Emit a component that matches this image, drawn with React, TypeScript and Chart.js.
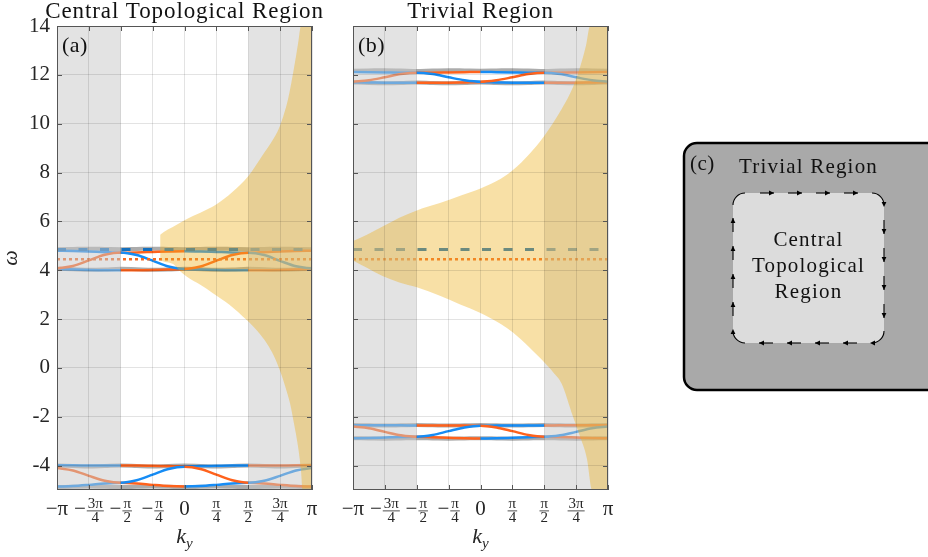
import React, { useEffect, useRef } from "react";
import { Chart, registerables } from "chart.js";

Chart.register(...registerables);

const PI = Math.PI;

// ---------- axes ----------
const kRange = [-PI, PI];
const omegaRange = [-5, 14];
const kTickValues = [-PI, -0.75 * PI, -0.5 * PI, -0.25 * PI, 0, 0.25 * PI, 0.5 * PI, 0.75 * PI, PI];
const kTickLabels = ["−π", "−3π/4", "−π/2", "−π/4", "0", "π/4", "π/2", "3π/4", "π"];
const omegaTicks = [-4, -2, 0, 2, 4, 6, 8, 10, 12, 14];
const shadedK = [[-PI, -PI / 2], [PI / 2, PI]];

// band samples in units of π/8
const kEighths = [-8, -7, -6, -5, -4, -3, -2, -1, 0, 1, 2, 3, 4, 5, 6, 7, 8];

// ---------- panel (a): Central Topological Region ----------
const aUpTop = [4.80, 4.79, 4.77, 4.74, 4.72, 4.73, 4.75, 4.77, 4.78, 4.77, 4.75, 4.73, 4.72, 4.74, 4.77, 4.79, 4.80];
const aUpMid = [4.07, 4.17, 4.40, 4.63, 4.73, 4.62, 4.39, 4.15, 4.05, 4.15, 4.39, 4.62, 4.72, 4.62, 4.38, 4.16, 4.07];
const aUpBot = [4.04, 4.03, 4.01, 4.00, 4.00, 4.00, 4.01, 4.03, 4.04, 4.03, 4.01, 4.00, 4.00, 4.00, 4.01, 4.03, 4.04];
const aUpGrayHi = [4.86, 4.87, 4.88, 4.87, 4.86, 4.87, 4.88, 4.87, 4.86, 4.87, 4.88, 4.87, 4.86, 4.87, 4.88, 4.87, 4.86];
const aUpGrayLo = [4.06, 4.04, 4.02, 4.03, 4.06, 4.04, 4.02, 4.03, 4.06, 4.04, 4.02, 4.03, 4.06, 4.04, 4.02, 4.03, 4.06];

const aLoTop = [-3.99, -3.99, -4.00, -4.00, -4.00, -4.00, -4.01, -4.02, -4.03, -4.02, -4.01, -4.00, -4.00, -4.00, -4.00, -3.99, -3.99];
const aLoMid = [-4.10, -4.20, -4.42, -4.62, -4.70, -4.60, -4.37, -4.14, -4.05, -4.14, -4.37, -4.60, -4.70, -4.62, -4.42, -4.20, -4.10];
const aLoBot = [-4.86, -4.84, -4.79, -4.73, -4.70, -4.73, -4.79, -4.84, -4.86, -4.84, -4.79, -4.73, -4.70, -4.73, -4.79, -4.84, -4.86];
const aLoGrayHi = [-4.00, -4.02, -4.04, -4.02, -4.00, -4.02, -4.04, -4.02, -4.00, -4.02, -4.04, -4.02, -4.00, -4.02, -4.04, -4.02, -4.00];
const aLoGrayLo = [-4.88, -4.87, -4.86, -4.87, -4.88, -4.87, -4.86, -4.87, -4.88, -4.87, -4.86, -4.87, -4.88, -4.87, -4.86, -4.87, -4.88];

const aDashed = 4.85;
const aDotted = 4.45;

const aFanUpperK = [-0.60, -0.50, -0.30, 0.00, 0.39, 0.79, 1.18, 1.57, 1.96, 2.20, 2.36, 2.55, 2.70, 2.80, 2.87, PI];
const aFanUpperW = [5.45, 5.58, 5.76, 6.05, 6.35, 6.70, 7.20, 7.85, 8.80, 9.40, 9.95, 11.0, 12.3, 13.3, 14.0, 14.0];
const aFanLowerK = [-0.60, -0.50, -0.28, -0.10, 0.06, 0.39, 0.70, 1.10, 1.54, 1.80, 2.03, 2.20, 2.35, 2.48, 2.60, 2.70, 2.80, 2.87, 2.91, PI];
const aFanLowerW = [4.40, 4.35, 4.25, 3.95, 3.73, 3.40, 3.06, 2.60, 1.95, 1.50, 1.00, 0.50, -0.10, -0.75, -1.45, -2.30, -3.25, -4.20, -5.0, -5.0];

// ---------- panel (b): Trivial Region ----------
const bUpTop = [12.12, 12.11, 12.10, 12.09, 12.09, 12.09, 12.10, 12.11, 12.12, 12.11, 12.10, 12.09, 12.09, 12.09, 12.10, 12.11, 12.12];
const bUpMid = [11.72, 11.78, 11.90, 12.03, 12.09, 12.03, 11.90, 11.78, 11.72, 11.78, 11.90, 12.03, 12.09, 12.03, 11.90, 11.78, 11.72];
const bUpBot = [11.70, 11.69, 11.68, 11.68, 11.68, 11.68, 11.68, 11.69, 11.70, 11.69, 11.68, 11.68, 11.68, 11.68, 11.68, 11.69, 11.70];
const bUpGrayHi = [12.17, 12.18, 12.19, 12.18, 12.16, 12.18, 12.19, 12.18, 12.17, 12.18, 12.19, 12.18, 12.16, 12.18, 12.19, 12.18, 12.17];
const bUpGrayLo = [11.69, 11.67, 11.66, 11.67, 11.69, 11.67, 11.66, 11.67, 11.69, 11.67, 11.66, 11.67, 11.69, 11.67, 11.66, 11.67, 11.69];

const bLoTop = [-2.35, -2.35, -2.35, -2.35, -2.36, -2.36, -2.36, -2.36, -2.37, -2.36, -2.36, -2.36, -2.36, -2.35, -2.35, -2.35, -2.35];
const bLoMid = [-2.40, -2.47, -2.62, -2.76, -2.82, -2.75, -2.59, -2.44, -2.37, -2.44, -2.59, -2.75, -2.82, -2.76, -2.62, -2.47, -2.40];
const bLoBot = [-2.88, -2.87, -2.85, -2.83, -2.82, -2.84, -2.86, -2.88, -2.89, -2.88, -2.86, -2.84, -2.82, -2.83, -2.85, -2.87, -2.88];
const bLoGrayHi = [-2.34, -2.35, -2.36, -2.35, -2.34, -2.35, -2.36, -2.35, -2.34, -2.35, -2.36, -2.35, -2.34, -2.35, -2.36, -2.35, -2.34];
const bLoGrayLo = [-2.88, -2.89, -2.90, -2.89, -2.88, -2.89, -2.90, -2.89, -2.88, -2.89, -2.90, -2.89, -2.88, -2.89, -2.90, -2.89, -2.88];

const bDashed = 4.85;
const bDotted = 4.45;

const bFanUpperK = [-PI, -2.8, -2.4, -2.0, -1.57, -1.0, -0.5, 0.0, 0.5, 0.8, 1.2, 1.57, 2.0, 2.28, 2.45, 2.60, 2.70, PI];
const bFanUpperW = [5.2, 5.45, 5.8, 6.15, 6.45, 6.75, 7.05, 7.35, 7.75, 8.1, 8.75, 9.5, 10.6, 11.5, 12.3, 13.2, 14.0, 14.0];
const bFanLowerK = [-PI, -2.8, -2.4, -2.0, -1.57, -1.0, -0.5, 0.0, 0.5, 0.8, 1.2, 1.5, 1.8, 2.0, 2.28, 2.45, 2.62, 2.75, PI];
const bFanLowerW = [4.4, 4.1, 3.75, 3.5, 3.3, 2.95, 2.6, 2.25, 1.8, 1.45, 0.85, 0.35, -0.2, -0.65, -2.0, -2.8, -3.7, -5.0, -5.0];

// ---------- styles ----------
const FONT = '"Liberation Serif", "Times New Roman", serif';
const BLUE = "rgb(22,140,245)";
const ORANGE = "rgb(255,98,28)";
const DASH_BLUE = "rgb(20,112,190)";
const DOT_ORANGE = "rgb(245,105,35)";
const GRAY_LINE = "rgba(158,158,158,0.85)";
const SHADE = "rgba(200,200,200,0.5)";
const YELLOW = "rgba(237,177,32,0.4)";
const GRID = "rgba(0,0,0,0.11)";
const AXIS = "#555555";
const TEXT = "#262626";
const colorsTB = [BLUE, ORANGE, BLUE, ORANGE];
const colorsMid = [ORANGE, BLUE, ORANGE, BLUE];

function regionOf(x: number) {
  return Math.min(3, Math.max(0, Math.floor((x + PI) / (PI / 2))));
}

function bandDS(ys: number[], colors: string[] | null, width: number, order: number) {
  const ds: any = {
    data: kEighths.map((e, i) => ({ x: (e * PI) / 8, y: ys[i] })),
    borderWidth: width,
    borderColor: colors ? colors[0] : GRAY_LINE,
    cubicInterpolationMode: "monotone",
    pointRadius: 0,
    fill: false,
    order,
  };
  if (colors) {
    ds.segment = {
      borderColor: (c: any) => colors[regionOf((c.p0.parsed.x + c.p1.parsed.x) / 2)],
    };
  }
  return ds;
}

type Group = { top: number[]; mid: number[]; bot: number[]; grayHi: number[]; grayLo: number[] };
type Panel = {
  title: string;
  tag: string;
  showOmega: boolean;
  groups: Group[];
  fanUK: number[]; fanUW: number[]; fanLK: number[]; fanLW: number[];
  dashed: number; dotted: number;
};

const panelA: Panel = {
  title: "Central Topological Region",
  tag: "(a)",
  showOmega: true,
  groups: [
    { top: aUpTop, mid: aUpMid, bot: aUpBot, grayHi: aUpGrayHi, grayLo: aUpGrayLo },
    { top: aLoTop, mid: aLoMid, bot: aLoBot, grayHi: aLoGrayHi, grayLo: aLoGrayLo },
  ],
  fanUK: aFanUpperK, fanUW: aFanUpperW, fanLK: aFanLowerK, fanLW: aFanLowerW,
  dashed: aDashed, dotted: aDotted,
};

const panelB: Panel = {
  title: "Trivial Region",
  tag: "(b)",
  showOmega: false,
  groups: [
    { top: bUpTop, mid: bUpMid, bot: bUpBot, grayHi: bUpGrayHi, grayLo: bUpGrayLo },
    { top: bLoTop, mid: bLoMid, bot: bLoBot, grayHi: bLoGrayHi, grayLo: bLoGrayLo },
  ],
  fanUK: bFanUpperK, fanUW: bFanUpperW, fanLK: bFanLowerK, fanLW: bFanLowerW,
  dashed: bDashed, dotted: bDotted,
};

function buildDatasets(p: Panel) {
  const ds: any[] = [];
  ds.push({
    data: p.fanUK.map((k, i) => ({ x: k, y: p.fanUW[i] })),
    borderWidth: 0, borderColor: "rgba(0,0,0,0)", backgroundColor: YELLOW,
    fill: "+1", order: 0, pointRadius: 0, cubicInterpolationMode: "monotone",
  });
  ds.push({
    data: p.fanLK.map((k, i) => ({ x: k, y: p.fanLW[i] })),
    borderWidth: 0, borderColor: "rgba(0,0,0,0)", fill: false, order: 0, pointRadius: 0,
    cubicInterpolationMode: "monotone",
  });
  shadedK.forEach(([k0, k1]) => {
    ds.push({
      data: [{ x: k0, y: omegaRange[1] }, { x: k1, y: omegaRange[1] }],
      borderWidth: 0, borderColor: "rgba(0,0,0,0)", backgroundColor: SHADE,
      fill: "start", order: 1, pointRadius: 0,
    });
  });
  ds.push({
    data: [{ x: kRange[0], y: p.dashed }, { x: kRange[1], y: p.dashed }],
    borderWidth: 3, borderColor: DASH_BLUE, borderDash: [9, 12.5], fill: false, order: 2, pointRadius: 0,
  });
  ds.push({
    data: [{ x: kRange[0], y: p.dotted }, { x: kRange[1], y: p.dotted }],
    borderWidth: 2.5, borderColor: DOT_ORANGE, borderDash: [3, 3], fill: false, order: 2, pointRadius: 0,
  });
  p.groups.forEach((g) => {
    ds.push(bandDS(g.grayHi, null, 4, 6));
    ds.push(bandDS(g.grayLo, null, 4, 6));
    ds.push(bandDS(g.top, colorsTB, 2.5, 4));
    ds.push(bandDS(g.bot, colorsTB, 2.5, 4));
    ds.push(bandDS(g.mid, colorsMid, 2.5, 3));
  });
  return ds;
}

function drawKTickLabel(ctx: CanvasRenderingContext2D, label: string, cx: number, base: number) {
  const neg = label.startsWith("−");
  const body = neg ? label.slice(1) : label;
  ctx.fillStyle = TEXT;
  ctx.textBaseline = "alphabetic";
  if (body.includes("/")) {
    const [num, den] = body.split("/");
    ctx.font = `15px ${FONT}`;
    const fw = Math.max(ctx.measureText(num).width, ctx.measureText(den).width) + 2;
    ctx.font = `21px ${FONT}`;
    const mw = neg ? ctx.measureText("−").width + 1 : 0;
    const x0 = cx - (mw + fw) / 2;
    if (neg) {
      ctx.textAlign = "left";
      ctx.fillText("−", x0, base + 25);
    }
    const fx = x0 + mw + fw / 2;
    ctx.font = `15px ${FONT}`;
    ctx.textAlign = "center";
    ctx.fillText(num, fx, base + 18);
    ctx.fillText(den, fx, base + 32);
    ctx.fillRect(fx - fw / 2, base + 20.5, fw, 0.8);
  } else {
    ctx.font = `21px ${FONT}`;
    ctx.textAlign = "center";
    ctx.fillText(label, cx, base + 25);
  }
}

function decorPlugin(p: Panel) {
  return {
    id: "decor",
    afterDraw(chart: any) {
      const { ctx, chartArea: a, scales } = chart;
      const xs = scales.x, ys = scales.y;
      ctx.save();
      // box
      ctx.strokeStyle = AXIS;
      ctx.lineWidth = 1;
      ctx.strokeRect(a.left + 0.5, a.top + 0.5, a.right - a.left - 1, a.bottom - a.top - 1);
      // inward ticks
      ctx.beginPath();
      kTickValues.forEach((v) => {
        const px = Math.round(xs.getPixelForValue(v)) + 0.5;
        ctx.moveTo(px, a.bottom); ctx.lineTo(px, a.bottom - 5);
        ctx.moveTo(px, a.top); ctx.lineTo(px, a.top + 5);
      });
      omegaTicks.forEach((v) => {
        const py = Math.round(ys.getPixelForValue(v)) + 0.5;
        ctx.moveTo(a.left, py); ctx.lineTo(a.left + 5, py);
        ctx.moveTo(a.right, py); ctx.lineTo(a.right - 5, py);
      });
      ctx.stroke();
      // x tick labels
      kTickValues.forEach((v, i) => drawKTickLabel(ctx, kTickLabels[i], xs.getPixelForValue(v), a.bottom));
      // x title k_y
      const cx = (a.left + a.right) / 2;
      ctx.fillStyle = TEXT;
      ctx.textAlign = "left";
      ctx.font = `italic 22px ${FONT}`;
      const kw = ctx.measureText("k").width;
      ctx.font = `italic 15px ${FONT}`;
      const yw = ctx.measureText("y").width;
      const x0 = cx - (kw + yw) / 2;
      ctx.font = `italic 22px ${FONT}`;
      ctx.fillText("k", x0, a.bottom + 53);
      ctx.font = `italic 15px ${FONT}`;
      ctx.fillText("y", x0 + kw, a.bottom + 58);
      // title
      ctx.fillStyle = "#111";
      ctx.font = `23px ${FONT}`;
      (ctx as any).letterSpacing = "0.9px";
      ctx.textAlign = "center";
      ctx.fillText(p.title, cx, a.top - 8);
      // tag
      ctx.font = `22px ${FONT}`;
      (ctx as any).letterSpacing = "0.5px";
      ctx.textAlign = "left";
      ctx.fillText(p.tag, a.left + 5, a.top + 26);
      (ctx as any).letterSpacing = "0px";
      ctx.restore();
    },
  };
}

function makeConfig(p: Panel, yWidth: number, padRight: number): any {
  return {
    type: "line",
    data: { datasets: buildDatasets(p) },
    options: {
      responsive: false,
      animation: false,
      devicePixelRatio: 1,
      layout: { padding: { left: 0, right: padRight, top: 26, bottom: 0 } },
      plugins: { legend: { display: false }, tooltip: { enabled: false }, title: { display: false } },
      elements: { point: { radius: 0 } },
      scales: {
        x: {
          type: "linear",
          min: kRange[0],
          max: kRange[1],
          afterBuildTicks: (s: any) => { s.ticks = kTickValues.map((v) => ({ value: v })); },
          ticks: { display: false },
          grid: { color: GRID, drawTicks: false, z: 1 },
          border: { display: false },
          afterFit: (s: any) => { s.height = 67; },
        },
        y: {
          type: "linear",
          min: omegaRange[0],
          max: omegaRange[1],
          afterBuildTicks: (s: any) => { s.ticks = omegaTicks.map((v) => ({ value: v })); },
          ticks: { display: p.showOmega, font: { family: FONT, size: 21 }, color: TEXT, padding: 7 },
          grid: { color: GRID, drawTicks: false, z: 1 },
          border: { display: false },
          title: {
            display: p.showOmega,
            text: "ω",
            color: TEXT,
            font: { family: FONT, size: 22, style: "italic", lineHeight: 1 },
            padding: 0,
          },
          afterFit: (s: any) => { s.width = yWidth; },
        },
      },
    },
    plugins: [decorPlugin(p)],
  };
}

// ---------- panel (c) schematic ----------
const schemOuter = { left: 44, top: 143, right: 300, bottom: 390, radius: 13 };
const schemInner = { left: 93, top: 193, right: 244, bottom: 343, radius: 12 };
const arrowOffsets = [34, 62, 90, 118];
const innerLines = ["Central", "Topological", "Region"];

function arrowHead(ctx: CanvasRenderingContext2D, x: number, y: number, ang: number) {
  const hl = 5, hw = 2.4;
  ctx.beginPath();
  ctx.moveTo(x, y);
  ctx.lineTo(x - hl * Math.cos(ang) + hw * Math.sin(ang), y - hl * Math.sin(ang) - hw * Math.cos(ang));
  ctx.lineTo(x - hl * Math.cos(ang) - hw * Math.sin(ang), y - hl * Math.sin(ang) + hw * Math.cos(ang));
  ctx.closePath();
  ctx.fill();
}

function roundRectPath(ctx: CanvasRenderingContext2D, l: number, t: number, r: number, b: number, rad: number) {
  ctx.beginPath();
  ctx.moveTo(l + rad, t);
  ctx.lineTo(r - rad, t);
  ctx.arcTo(r, t, r, t + rad, rad);
  ctx.lineTo(r, b - rad);
  ctx.arcTo(r, b, r - rad, b, rad);
  ctx.lineTo(l + rad, b);
  ctx.arcTo(l, b, l, b - rad, rad);
  ctx.lineTo(l, t + rad);
  ctx.arcTo(l, t, l + rad, t, rad);
  ctx.closePath();
}

const schematicPlugin = {
  id: "schematic",
  afterDraw(chart: any) {
    const ctx: CanvasRenderingContext2D = chart.ctx;
    ctx.save();
    const o = schemOuter;
    roundRectPath(ctx, o.left, o.top, o.right, o.bottom, o.radius);
    ctx.fillStyle = "#a9a9a9";
    ctx.fill();
    ctx.lineWidth = 2.5;
    ctx.strokeStyle = "#000";
    ctx.stroke();

    const n = schemInner;
    roundRectPath(ctx, n.left, n.top, n.right, n.bottom, n.radius);
    ctx.fillStyle = "#dcdcdc";
    ctx.fill();

    ctx.strokeStyle = "#000";
    ctx.fillStyle = "#000";
    ctx.lineWidth = 1.1;
    const len = 14;
    arrowOffsets.forEach((d) => {
      const x = n.left + d;
      ctx.beginPath(); ctx.moveTo(x - len / 2, n.top); ctx.lineTo(x + len / 2, n.top); ctx.stroke();
      arrowHead(ctx, x + len / 2, n.top, 0);
    });
    arrowOffsets.forEach((d) => {
      const y = n.top + d;
      ctx.beginPath(); ctx.moveTo(n.right, y - len / 2); ctx.lineTo(n.right, y + len / 2); ctx.stroke();
      arrowHead(ctx, n.right, y + len / 2, PI / 2);
    });
    arrowOffsets.forEach((d) => {
      const x = n.right - d;
      ctx.beginPath(); ctx.moveTo(x + len / 2, n.bottom); ctx.lineTo(x - len / 2, n.bottom); ctx.stroke();
      arrowHead(ctx, x - len / 2, n.bottom, PI);
    });
    arrowOffsets.forEach((d) => {
      const y = n.bottom - d;
      ctx.beginPath(); ctx.moveTo(n.left, y + len / 2); ctx.lineTo(n.left, y - len / 2); ctx.stroke();
      arrowHead(ctx, n.left, y - len / 2, -PI / 2);
    });
    const r = n.radius;
    ctx.beginPath(); ctx.arc(n.left + r, n.top + r, r, PI, 1.5 * PI); ctx.stroke();
    ctx.beginPath(); ctx.arc(n.right - r, n.top + r, r, 1.5 * PI, 2 * PI); ctx.stroke();
    arrowHead(ctx, n.right, n.top + r + 2, PI / 2);
    ctx.beginPath(); ctx.arc(n.right - r, n.bottom - r, r, 0, 0.5 * PI); ctx.stroke();
    arrowHead(ctx, n.right - r - 2, n.bottom, PI);
    ctx.beginPath(); ctx.arc(n.left + r, n.bottom - r, r, 0.5 * PI, PI); ctx.stroke();
    arrowHead(ctx, n.left, n.bottom - r - 2, -PI / 2);

    ctx.fillStyle = "#111";
    ctx.textBaseline = "alphabetic";
    ctx.font = `21px ${FONT}`;
    (ctx as any).letterSpacing = "0.5px";
    ctx.textAlign = "left";
    ctx.fillText("(c)", o.left + 6, o.top + 27);
    (ctx as any).letterSpacing = "1.2px";
    ctx.textAlign = "center";
    const cx = (n.left + n.right) / 2;
    ctx.fillText("Trivial Region", cx, o.top + 30);
    innerLines.forEach((t, i) => ctx.fillText(t, cx, n.top + 53 + i * 26));
    (ctx as any).letterSpacing = "0px";
    ctx.restore();
  },
};

function schematicConfig(): any {
  return {
    type: "line",
    data: { datasets: [] },
    options: {
      responsive: false,
      animation: false,
      devicePixelRatio: 1,
      layout: { padding: 0 },
      plugins: { legend: { display: false }, tooltip: { enabled: false } },
      scales: { x: { display: false }, y: { display: false } },
    },
    plugins: [schematicPlugin],
  };
}

export default function App() {
  const refA = useRef<HTMLCanvasElement>(null);
  const refB = useRef<HTMLCanvasElement>(null);
  const refC = useRef<HTMLCanvasElement>(null);

  useEffect(() => {
    const charts: Chart[] = [];
    if (refA.current) charts.push(new Chart(refA.current, makeConfig(panelA, 57, 23)));
    if (refB.current) charts.push(new Chart(refB.current, makeConfig(panelB, 18, 27)));
    if (refC.current) charts.push(new Chart(refC.current, schematicConfig()));
    return () => charts.forEach((c) => c.destroy());
  }, []);

  const cs = (left: number, width: number): React.CSSProperties => ({
    position: "absolute",
    left,
    top: 0,
    width,
    height: 557,
  });

  return (
    <div style={{ position: "absolute", left: 0, top: 0, width: 928, height: 557, background: "#fff", overflow: "hidden" }}>
      <canvas ref={refA} width={335} height={557} style={cs(0, 335)} />
      <canvas ref={refB} width={300} height={557} style={cs(335, 300)} />
      <canvas ref={refC} width={288} height={557} style={cs(640, 288)} />
    </div>
  );
}
